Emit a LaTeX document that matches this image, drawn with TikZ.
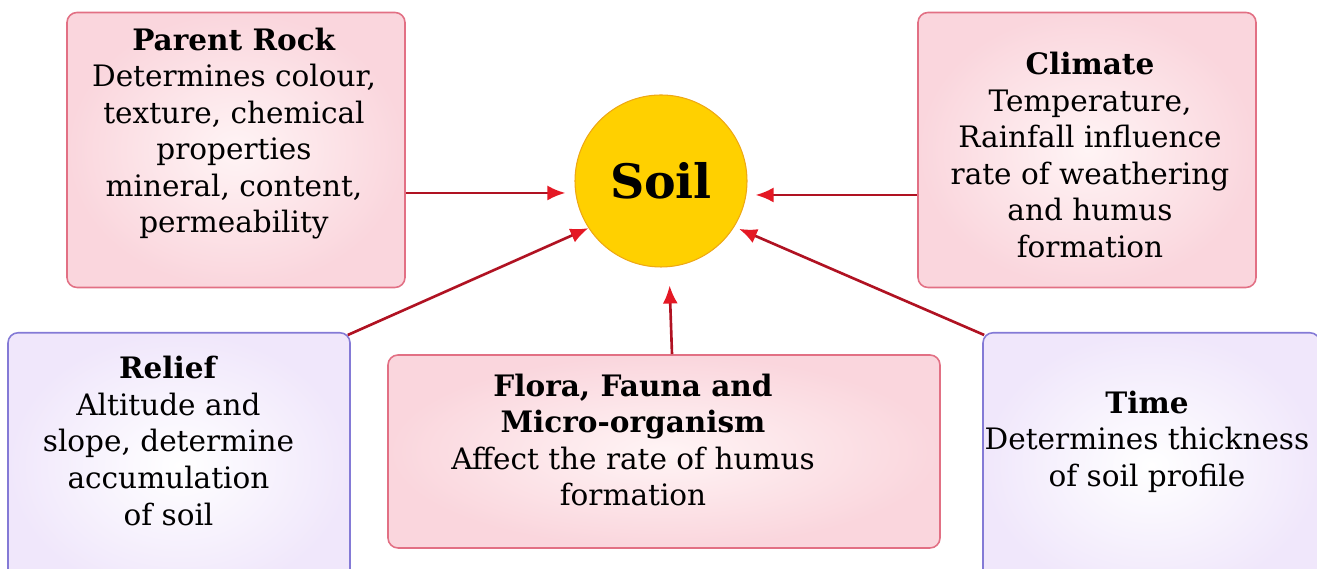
\documentclass[tikz,border=0pt]{standalone}
\usepackage{fontspec}
\setmainfont{DejaVu Serif}
\usetikzlibrary{positioning, arrows.meta, calc}
\definecolor{RoseLine}{RGB}{226,112,132}
\definecolor{RoseFill}{RGB}{250,214,221}
\definecolor{RoseCore}{RGB}{255,244,245}
\definecolor{LilacLine}{RGB}{132,122,214}
\definecolor{LilacFill}{RGB}{240,231,251}
\definecolor{SoilGold}{RGB}{255,208,0}
\definecolor{SoilRim}{RGB}{238,168,20}
\definecolor{ArrowRed}{RGB}{176,18,34}
\definecolor{TipRed}{RGB}{228,24,36}
\tikzset{
  factor/.style={rectangle, rounded corners=2mm, draw=RoseLine, line width=0.9pt,
    inner color=RoseCore, outer color=RoseFill},
  slowfactor/.style={factor, draw=LilacLine, inner color=white, outer color=LilacFill},
  blurb/.style={align=center, inner sep=0pt, font=\fontsize{16.8}{20.8}\selectfont},
  hub/.style={circle, fill=SoilGold, draw=SoilRim, line width=0.6pt, minimum size=3.44cm,
    font=\fontsize{27}{30}\selectfont\bfseries},
  link/.style={ArrowRed, line width=1.5pt, -{Latex[length=3.6mm, width=3mm, color=TipRed]}},
}
\begin{document}
\begin{tikzpicture}
    \useasboundingbox (0,0) rectangle (26.34,11.38);
    \node[hub] (soil) at (13.22,7.76) {Soil};
    \node[factor, minimum width=6.76cm, minimum height=5.5cm] (rock) at (4.72,8.38) {};
    \node[factor, minimum width=6.76cm, minimum height=5.5cm] (climate) at (21.74,8.38) {};
    \node[factor, minimum width=11.04cm, minimum height=3.86cm] (flora) at (13.28,2.35) {};
    \node[slowfactor, anchor=north, minimum width=6.84cm, minimum height=5.3cm] (relief) at (3.58,4.74) {};
    \node[slowfactor, anchor=north, minimum width=6.74cm, minimum height=5.3cm] (time) at (23.03,4.74) {};
    % texts
    \node[blurb] (rocktxt) at (4.68,8.71) {\textbf{Parent Rock}\\Determines colour,\\texture, chemical\\properties\\mineral, content,\\permeability};
    \node[blurb] (climatetxt) at (21.8,8.28) {\textbf{Climate}\\Temperature,\\Rainfall influence\\rate of weathering\\and humus\\formation};
    \node[blurb] (floratxt) at (12.66,2.58) {\textbf{Flora, Fauna and}\\\textbf{Micro-organism}\\Affect the rate of humus\\formation};
    \node[blurb] (relieftxt) at (3.37,2.56) {\textbf{Relief}\\Altitude and\\slope, determine\\accumulation\\of soil};
    \node[blurb] (timetxt) at (22.94,2.55) {\textbf{Time}\\Determines thickness\\of soil profile};
    % arrows
    \draw[link, shorten >=1.8mm] ([yshift=-8.6mm]rock.east) -- ([yshift=-8.6mm]rock.east -| soil.west);
    \draw[link, shorten >=1.6mm] ([yshift=-9mm]climate.west) -- ([yshift=-9mm]climate.west -| soil.east);
    \draw[link] ([xshift=-0.6mm, yshift=-0.6mm]relief.north east) -- (soil.213);
    \draw[link, shorten >=1mm] ([xshift=0.4mm, yshift=-0.6mm]time.north west) -- (soil.-32);
    \draw[link, shorten >=3.6mm] ([xshift=1.6mm]flora.north) -- ([xshift=1.6mm]soil.south);
\end{tikzpicture}
\end{document}
